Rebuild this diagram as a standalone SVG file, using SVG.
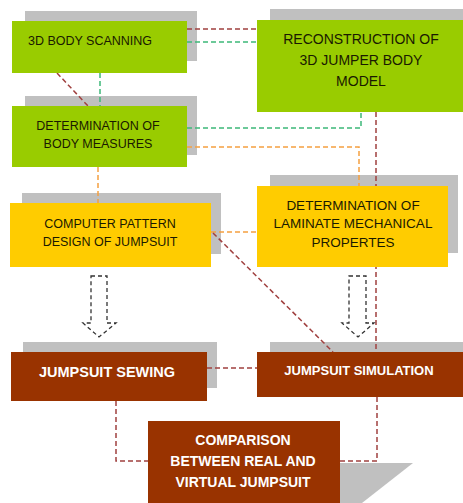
<svg xmlns="http://www.w3.org/2000/svg" width="463" height="503" viewBox="0 0 463 503">
<style>
.sh{fill:#c0c0c0}
.g{fill:#99cc00}
.y{fill:#ffcc00}
.b{fill:#993300}
.t{font-family:"Liberation Sans",Arial,sans-serif;fill:#1a1a00;text-anchor:middle}
.w{font-family:"Liberation Sans",Arial,sans-serif;fill:#ffffff;font-weight:bold;text-anchor:middle}
.c{fill:none;stroke-width:1.5;stroke-dasharray:5,3}
.red{stroke:#a0403f}
.grn{stroke:#3cb878}
.org{stroke:#f5a040}
.arr{fill:none;stroke:#333;stroke-width:1.3;stroke-dasharray:4,3}
</style>
<rect width="463" height="503" fill="#fff"/>
<g id="shadows">
<rect class="sh" x="25" y="11" width="172" height="50"/>
<rect class="sh" x="270" y="9" width="193" height="40"/>
<rect class="sh" x="25" y="96" width="172" height="59"/>
<rect class="sh" x="22" y="193" width="199" height="61"/>
<rect class="sh" x="270" y="175" width="188" height="78"/>
<rect class="sh" x="23" y="342" width="194" height="46"/>
<rect class="sh" x="270" y="342" width="193" height="40"/>
<polygon class="sh" points="338,463 413,463 362,503 338,503"/>
</g>
<g id="connectors">
<path class="c red" d="M187,29 H257"/>
<path class="c grn" d="M187,42 H257"/>
<path class="c red" d="M57,73 L88,106"/>
<path class="c grn" d="M100,73 V106"/>
<path class="c grn" d="M187,128 H361 V112"/>
<path class="c org" d="M187,147 H359 V186"/>
<path class="c org" d="M98,167 V203"/>
<path class="c red" d="M376,112 V352"/>
<path class="c org" d="M211,232 H257"/>
<path class="c red" d="M213,233 L333,352"/>
<path class="c red" d="M207,368 H257"/>
<path class="c red" d="M116,401 V461 H148"/>
<path class="c red" d="M377,397 V461 H340"/>
<path class="arr" d="M91,276 H107 V323 H116 L99,337 L83,323 H91 Z"/>
<path class="arr" d="M349,276 H366 V323 H374 L358,337 L342,323 H349 Z"/>
</g>
<g id="scanning">
<rect class="g" x="12" y="21" width="175" height="52"/>
<text class="t" x="90" y="45" font-size="12.5">3D BODY SCANNING</text>
</g>
<g id="reconstruction">
<rect class="g" x="257" y="20" width="206" height="92"/>
<text class="t" x="361" y="44" font-size="14">RECONSTRUCTION OF</text>
<text class="t" x="361" y="65" font-size="14">3D JUMPER BODY</text>
<text class="t" x="361" y="86" font-size="14">MODEL</text>
</g>
<g id="measures">
<rect class="g" x="12" y="106" width="175" height="61"/>
<text class="t" x="98" y="130" font-size="12.5">DETERMINATION OF</text>
<text class="t" x="98" y="148" font-size="12.5">BODY MEASURES</text>
</g>
<g id="pattern">
<rect class="y" x="10" y="203" width="201" height="64"/>
<text class="t" x="110" y="228" font-size="12.5">COMPUTER PATTERN</text>
<text class="t" x="110" y="246" font-size="12.5">DESIGN OF JUMPSUIT</text>
</g>
<g id="laminate">
<rect class="y" x="257" y="186" width="191" height="81"/>
<text class="t" x="353" y="210" font-size="13.5">DETERMINATION OF</text>
<text class="t" x="353" y="228" font-size="13.5">LAMINATE MECHANICAL</text>
<text class="t" x="353" y="247" font-size="13.5">PROPERTES</text>
</g>
<g id="sewing">
<rect class="b" x="11" y="352" width="196" height="49"/>
<text class="w" x="107" y="377" font-size="14.5">JUMPSUIT SEWING</text>
</g>
<g id="simulation">
<rect class="b" x="257" y="352" width="206" height="45"/>
<text class="w" x="359" y="375" font-size="13">JUMPSUIT SIMULATION</text>
</g>
<g id="comparison">
<rect class="b" x="148" y="421" width="192" height="82"/>
<text class="w" x="243" y="445" font-size="14">COMPARISON</text>
<text class="w" x="243" y="466" font-size="14">BETWEEN REAL AND</text>
<text class="w" x="243" y="487" font-size="14">VIRTUAL JUMPSUIT</text>
</g>
</svg>
